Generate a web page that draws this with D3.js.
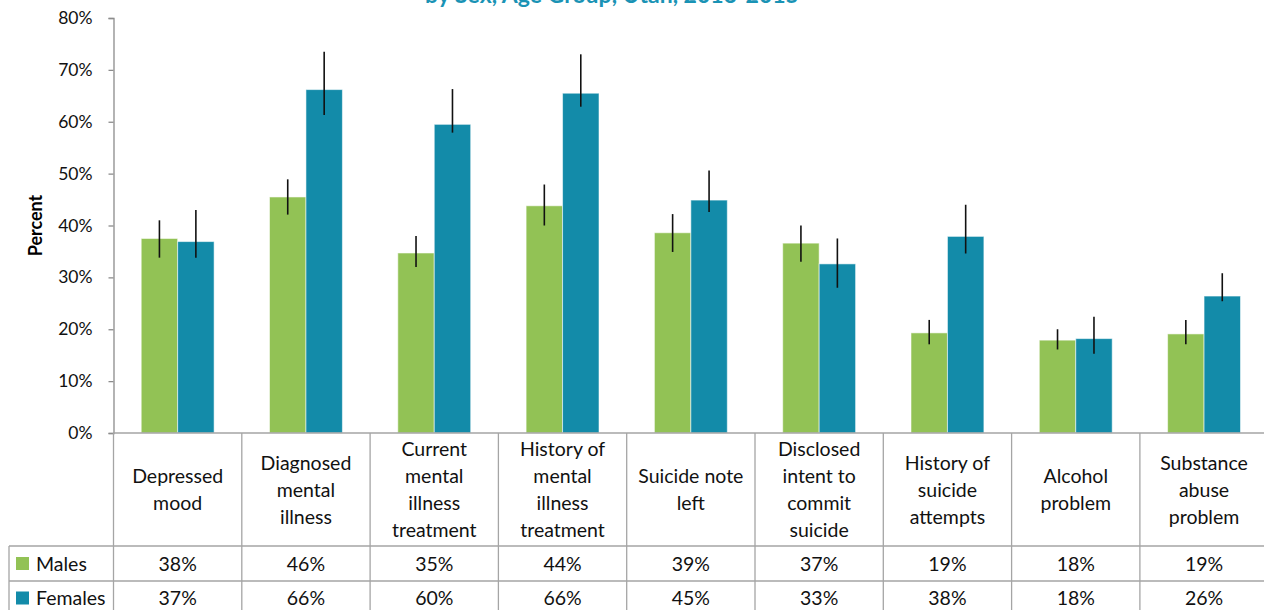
<!DOCTYPE html>
<html>
<head>
<meta charset="utf-8">
<script src="https://cdn.jsdelivr.net/npm/d3@7"></script>
<style>
  body { margin: 0; background: #fff; }
  svg { display: block; font-family: Lato, "Open Sans", sans-serif; }
</style>
</head>
<body>
<script>
'use strict';

// categories as they appear in the table header (one entry per line)
const categories = [
  ['Depressed', 'mood'],
  ['Diagnosed', 'mental', 'illness'],
  ['Current', 'mental', 'illness', 'treatment'],
  ['History of', 'mental', 'illness', 'treatment'],
  ['Suicide note', 'left'],
  ['Disclosed', 'intent to', 'commit', 'suicide'],
  ['History of', 'suicide', 'attempts'],
  ['Alcohol', 'problem'],
  ['Substance', 'abuse', 'problem']
];
const catKeys = categories.map(c => c.join(' '));

// percent values
const males   = [37.5, 45.5, 34.7, 43.8, 38.6, 36.6, 19.3, 17.9, 19.1];
const females = [36.9, 66.2, 59.5, 65.5, 44.9, 32.6, 37.9, 18.2, 26.4];

// error bar ends (low / high)
const malesLow    = [33.8, 42.1, 32.0, 40.0, 34.9, 33.0, 17.1, 16.1, 17.1];
const malesHigh   = [41.0, 48.9, 38.0, 47.9, 42.2, 40.0, 21.8, 20.0, 21.8];
const femalesLow  = [33.8, 61.3, 57.9, 62.9, 42.6, 28.0, 34.6, 15.3, 25.4];
const femalesHigh = [43.0, 73.5, 66.3, 73.0, 50.6, 37.5, 44.0, 22.4, 30.8];

const seriesNames = ['Males', 'Females'];
const colors = { Males: '#92c255', Females: '#138ba9' };
const yTicks = [0, 10, 20, 30, 40, 50, 60, 70, 80];

const title = 'by Sex, Age Group, Utah, 2013-2015';

(function() {
  const W = 1264, H = 610;
  const svg = d3.select('body').append('svg')
    .attr('width', W)
    .attr('height', H);

  const left = 113.5, bandW = 128.3;
  const top = 18, bottom = 433;
  const headerBottom = 546, maleRowBottom = 581, tableLeft = 9;
  const gridColor = '#a5a5a5';

  const x = d3.scaleBand()
    .domain(catKeys)
    .range([left, left + bandW * catKeys.length]);

  const xSub = d3.scaleBand()
    .domain(seriesNames)
    .range([0, x.bandwidth()])
    .paddingOuter(0.76);

  const y = d3.scaleLinear()
    .domain([0, 80])
    .range([bottom, top]);

  // title, mostly cut off at the top as in the original
  svg.append('text')
    .attr('x', 612)
    .attr('y', 3)
    .attr('text-anchor', 'middle')
    .style('font-size', '23px')
    .style('font-weight', 'bold')
    .style('fill', '#1a93b5')
    .text(title);

  // y axis
  const yAxis = d3.axisLeft(y)
    .tickValues(yTicks)
    .tickFormat(d => d + '%')
    .tickSize(5)
    .tickPadding(16);

  const gy = svg.append('g')
    .attr('transform', 'translate(' + left + ',0)')
    .call(yAxis);
  gy.select('.domain').attr('stroke', '#8c8c8c').attr('stroke-width', 1.3);
  gy.selectAll('.tick line').attr('stroke', '#8c8c8c').attr('stroke-width', 1.3);
  gy.selectAll('.tick text')
    .style('font-size', '17.5px')
    .style('font-family', 'Lato, sans-serif')
    .attr('fill', '#111');

  svg.append('text')
    .attr('transform', 'translate(42,' + ((top + bottom) / 2) + ') rotate(-90)')
    .attr('text-anchor', 'middle')
    .style('font-size', '18px')
    .style('font-weight', 'bold')
    .text('Percent');

  // bars
  const rows = catKeys.map((k, i) => ({
    key: k,
    vals: [
      { s: 'Males', v: males[i], lo: malesLow[i], hi: malesHigh[i] },
      { s: 'Females', v: females[i], lo: femalesLow[i], hi: femalesHigh[i] }
    ]
  }));

  const groups = svg.selectAll('.grp')
    .data(rows)
    .enter()
    .append('g')
    .attr('class', 'grp')
    .attr('transform', d => 'translate(' + x(d.key) + ',0)');

  groups.selectAll('rect')
    .data(d => d.vals)
    .enter()
    .append('rect')
    .attr('x', d => xSub(d.s))
    .attr('y', d => y(d.v))
    .attr('width', xSub.bandwidth())
    .attr('height', d => y(0) - y(d.v))
    .attr('fill', d => colors[d.s])
    .attr('stroke', 'rgba(255,255,255,0.55)')
    .attr('stroke-width', 1);

  // error bars
  groups.selectAll('line.err')
    .data(d => d.vals)
    .enter()
    .append('line')
    .attr('class', 'err')
    .attr('x1', d => xSub(d.s) + xSub.bandwidth() / 2)
    .attr('x2', d => xSub(d.s) + xSub.bandwidth() / 2)
    .attr('y1', d => y(d.lo))
    .attr('y2', d => y(d.hi))
    .attr('stroke', '#111')
    .attr('stroke-width', 1.6);

  // data table grid
  const right = x.range()[1];
  svg.append('line')
    .attr('x1', left).attr('x2', right)
    .attr('y1', bottom).attr('y2', bottom)
    .attr('stroke', gridColor).attr('stroke-width', 1.3);
  [headerBottom, maleRowBottom].forEach(yy => {
    svg.append('line')
      .attr('x1', tableLeft).attr('x2', right)
      .attr('y1', yy).attr('y2', yy)
      .attr('stroke', gridColor).attr('stroke-width', 1.3);
  });
  catKeys.concat(['end']).forEach((k, i) => {
    const xx = i < catKeys.length ? x(k) : right;
    svg.append('line')
      .attr('x1', xx).attr('x2', xx)
      .attr('y1', bottom).attr('y2', H)
      .attr('stroke', gridColor).attr('stroke-width', 1.3);
  });
  svg.append('line')
    .attr('x1', tableLeft).attr('x2', tableLeft)
    .attr('y1', headerBottom).attr('y2', H)
    .attr('stroke', gridColor).attr('stroke-width', 1.3);

  // category header labels
  const lineH = 27;
  const headMid = (bottom + headerBottom) / 2;
  categories.forEach((lines, i) => {
    const cx = x(catKeys[i]) + x.bandwidth() / 2;
    const t = svg.append('text')
      .attr('text-anchor', 'middle')
      .style('font-size', '19.5px')
      .attr('fill', '#111');
    lines.forEach((ln, j) => {
      t.append('tspan')
        .attr('x', cx)
        .attr('y', headMid + (j - (lines.length - 1) / 2) * lineH)
        .attr('dy', '0.36em')
        .text(ln);
    });
  });

  // table value rows with legend keys
  const rowMid = {
    Males: (headerBottom + maleRowBottom) / 2,
    Females: (maleRowBottom + 615) / 2
  };
  [males, females].forEach((vals, r) => {
    const s = seriesNames[r];
    svg.append('rect')
      .attr('x', 16)
      .attr('y', rowMid[s] - 6.5)
      .attr('width', 13)
      .attr('height', 13)
      .attr('fill', colors[s]);
    svg.append('text')
      .attr('x', 36)
      .attr('y', rowMid[s])
      .attr('dy', '0.36em')
      .style('font-size', '19.5px')
      .attr('fill', '#111')
      .text(s);
    svg.selectAll('.val' + r)
      .data(vals)
      .enter()
      .append('text')
      .attr('x', (d, i) => x(catKeys[i]) + x.bandwidth() / 2)
      .attr('y', rowMid[s])
      .attr('dy', '0.36em')
      .attr('text-anchor', 'middle')
      .style('font-size', '19.5px')
      .attr('fill', '#111')
      .text(d => Math.round(d) + '%');
  });
})();
</script>
</body>
</html>
